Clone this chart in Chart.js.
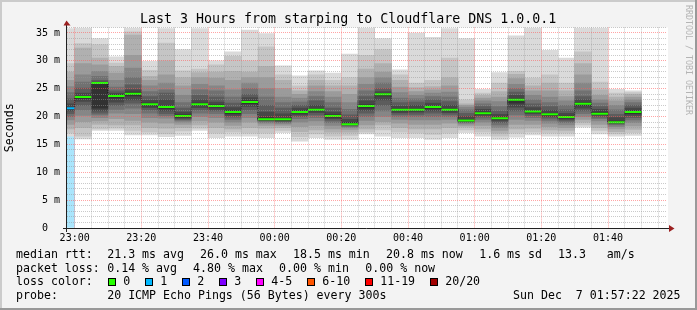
<!DOCTYPE html>
<html>
<head>
<meta charset="utf-8">
<script src="https://cdn.jsdelivr.net/npm/chart.js@4"></script>
<style>
  html, body { margin: 0; padding: 0; background: #f3f3f3; }
  canvas { display: block; }
</style>
</head>
<body>
<canvas id="smokeChart" width="697" height="310"></canvas>
<script>
// 5 minute slots, minutes after 23:00 (the first one is cut by the left edge)
const slotStart = [-5, 0, 5, 10, 15, 20, 25, 30, 35, 40, 45, 50, 55, 60, 65, 70, 75, 80,
  85, 90, 95, 100, 105, 110, 115, 120, 125, 130, 135, 140, 145, 150, 155, 160, 165];

// median rtt per slot (ms)
const medians = [21.5, 23.5, 26.0, 23.7, 24.1, 22.2, 21.7, 20.1, 22.2, 21.9, 20.8, 22.6,
  19.5, 19.5, 20.8, 21.2, 20.1, 18.6, 21.9, 24.0, 21.2, 21.2, 21.7, 21.2, 19.3, 20.6,
  19.7, 23.0, 20.9, 20.4, 19.9, 22.3, 20.5, 19.0, 20.8];

// loss class per slot (index into lossColors)
const lossIdx = [1, 0, 0, 0, 0, 0, 0, 0, 0, 0, 0, 0, 0, 0, 0, 0, 0, 0, 0, 0, 0, 0, 0, 0,
  0, 0, 0, 0, 0, 0, 0, 0, 0, 0, 0];

// light blue loss area under the first slot (ms), null = none
const lossArea = [16.5, null, null, null, null, null, null, null, null, null, null, null,
  null, null, null, null, null, null, null, null, null, null, null, null, null, null, null,
  null, null, null, null, null, null, null, null];

// sorted ping times per slot (ms), 18 values each -> smoke
const pings = [
  [16.5, 17.0, 17.8, 18.6, 19.4, 20.0, 20.5, 21.0, 21.3, 21.6, 22.3, 23.2, 24.3, 25.4, 26.5, 28.0, 29.5, 35.8],
  [16.0, 16.5, 18.0, 19.1, 20.2, 21.2, 22.0, 22.7, 23.2, 23.6, 24.2, 25.1, 26.2, 27.5, 29.5, 32.3, 33.1, 35.9],
  [17.5, 17.8, 18.6, 19.2, 19.8, 20.3, 20.6, 21.0, 21.5, 26.0, 26.2, 26.5, 27.2, 28.1, 29.3, 30.5, 32.9, 34.0],
  [17.5, 17.9, 18.5, 19.6, 20.6, 21.3, 22.0, 22.6, 23.3, 23.9, 24.2, 24.6, 25.3, 26.5, 27.8, 29.0, 29.6, 30.7],
  [16.7, 17.5, 18.5, 19.3, 20.5, 21.5, 22.4, 23.0, 23.7, 24.4, 24.8, 25.7, 27.0, 28.7, 31.0, 34.6, 35.2, 35.9],
  [16.7, 17.2, 18.0, 19.0, 19.8, 20.6, 21.2, 21.6, 21.9, 22.4, 22.9, 23.6, 24.5, 25.5, 26.5, 27.2, 28.3, 29.9],
  [16.4, 16.9, 17.9, 18.8, 19.7, 20.1, 20.5, 21.0, 21.4, 21.9, 23.0, 24.2, 24.8, 26.0, 27.5, 30.0, 33.2, 35.8],
  [16.6, 17.4, 18.0, 18.6, 19.0, 19.3, 19.5, 19.7, 19.9, 20.3, 20.8, 21.5, 22.5, 23.8, 25.5, 27.0, 28.2, 32.0],
  [17.5, 17.9, 18.5, 19.2, 20.0, 20.6, 21.2, 21.6, 22.0, 22.4, 23.0, 23.8, 24.8, 25.8, 27.0, 27.9, 28.5, 35.8],
  [16.2, 17.0, 18.0, 19.0, 19.8, 20.5, 21.0, 21.3, 21.7, 22.1, 22.6, 23.5, 24.6, 25.5, 26.9, 28.0, 29.3, 30.0],
  [16.5, 17.2, 17.8, 18.4, 19.0, 19.5, 19.9, 20.2, 20.5, 21.0, 21.6, 22.4, 23.5, 24.8, 26.5, 28.1, 30.8, 31.6],
  [16.5, 17.0, 18.0, 19.0, 19.8, 20.5, 21.2, 21.8, 22.3, 22.8, 23.4, 24.0, 25.0, 26.0, 27.0, 28.0, 30.0, 35.5],
  [16.2, 17.0, 17.9, 18.4, 18.8, 19.0, 19.2, 19.3, 19.4, 19.8, 20.8, 22.0, 23.5, 25.0, 27.0, 29.0, 32.5, 34.9],
  [17.1, 17.5, 18.0, 18.4, 18.7, 18.9, 19.1, 19.2, 19.3, 19.7, 20.5, 21.5, 22.5, 23.5, 25.0, 26.5, 27.5, 29.1],
  [15.6, 16.4, 17.3, 18.2, 19.0, 19.6, 20.0, 20.3, 20.6, 21.0, 21.5, 22.0, 22.6, 23.3, 24.0, 24.6, 25.5, 27.3],
  [16.2, 16.9, 17.6, 18.4, 19.2, 19.8, 20.3, 20.7, 21.0, 21.4, 22.0, 22.8, 23.6, 24.5, 25.5, 26.5, 27.5, 28.2],
  [15.9, 16.5, 17.2, 17.8, 18.4, 18.9, 19.3, 19.6, 19.9, 20.3, 20.8, 21.5, 22.5, 23.5, 24.5, 25.5, 26.5, 27.8],
  [15.9, 16.6, 17.2, 17.7, 18.0, 18.2, 18.4, 18.5, 18.6, 18.9, 19.5, 20.3, 21.3, 22.5, 24.0, 25.5, 27.0, 31.2],
  [16.9, 17.2, 17.8, 18.5, 19.3, 20.0, 20.6, 21.1, 21.5, 22.1, 22.8, 23.6, 24.6, 25.8, 27.0, 28.5, 31.0, 35.9],
  [16.5, 17.6, 18.5, 19.1, 20.0, 21.0, 22.0, 23.0, 23.7, 24.1, 24.5, 25.0, 26.0, 27.0, 28.0, 29.5, 32.0, 34.0],
  [16.2, 17.2, 18.0, 18.8, 19.5, 20.0, 20.4, 20.7, 21.0, 21.4, 21.9, 22.5, 23.3, 24.3, 25.3, 26.5, 27.5, 28.4],
  [16.2, 17.0, 17.8, 18.6, 19.4, 20.0, 20.4, 20.8, 21.0, 21.4, 22.0, 22.6, 23.2, 23.8, 24.5, 25.2, 26.0, 35.0],
  [15.9, 16.8, 17.8, 18.6, 19.4, 20.0, 20.6, 21.0, 21.4, 21.9, 22.4, 23.0, 23.6, 24.2, 24.8, 25.4, 26.5, 34.2],
  [16.2, 17.0, 18.0, 18.8, 19.5, 20.0, 20.4, 20.7, 21.0, 21.4, 22.0, 22.7, 23.5, 24.4, 25.5, 27.0, 30.5, 35.8],
  [17.1, 17.6, 18.1, 18.4, 18.7, 18.9, 19.0, 19.1, 19.2, 19.5, 20.0, 20.6, 21.2, 21.7, 22.0, 22.3, 23.0, 34.0],
  [16.5, 17.2, 17.8, 18.4, 19.0, 19.5, 19.9, 20.2, 20.4, 20.8, 21.3, 21.8, 22.3, 22.8, 23.3, 23.8, 24.2, 24.9],
  [15.9, 16.5, 17.0, 17.5, 18.0, 18.5, 18.9, 19.2, 19.5, 19.9, 20.4, 21.0, 21.8, 22.7, 23.5, 24.5, 26.0, 27.9],
  [16.3, 17.0, 17.8, 18.6, 19.5, 20.3, 21.0, 21.7, 22.4, 23.2, 23.8, 24.4, 25.0, 25.8, 26.8, 27.6, 28.1, 34.5],
  [16.7, 17.2, 17.9, 18.6, 19.3, 19.8, 20.2, 20.5, 20.7, 21.0, 21.6, 22.3, 23.0, 23.8, 24.6, 25.5, 26.9, 35.9],
  [16.5, 17.0, 17.6, 18.2, 18.8, 19.3, 19.7, 20.0, 20.2, 20.6, 21.1, 21.8, 22.5, 23.5, 24.6, 26.0, 27.5, 31.9],
  [16.5, 17.0, 17.5, 18.0, 18.5, 18.9, 19.2, 19.5, 19.7, 20.1, 20.6, 21.2, 22.0, 22.8, 23.6, 24.6, 26.0, 30.5],
  [18.1, 18.5, 19.0, 19.5, 20.0, 20.5, 21.0, 21.5, 22.0, 22.5, 23.0, 23.6, 24.6, 26.0, 27.5, 29.5, 31.6, 35.9],
  [16.9, 17.5, 18.0, 18.6, 19.2, 19.6, 19.9, 20.2, 20.4, 20.8, 21.3, 21.8, 22.4, 23.0, 23.8, 24.8, 26.2, 35.9],
  [16.5, 16.9, 17.3, 17.8, 18.2, 18.5, 18.7, 18.8, 18.9, 19.2, 19.8, 20.4, 21.2, 22.0, 22.8, 23.5, 24.2, 24.9],
  [16.6, 17.1, 17.7, 18.3, 18.9, 19.4, 19.8, 20.2, 20.5, 21.0, 21.5, 22.0, 22.5, 23.0, 23.5, 24.0, 24.3, 24.6]
];

// axis ticks
const xGridMinutes = [0, 5, 10, 15, 20, 25, 30, 35, 40, 45, 50, 55, 60, 65, 70, 75, 80, 85,
  90, 95, 100, 105, 110, 115, 120, 125, 130, 135, 140, 145, 150, 155, 160, 165, 170, 175];
const xLabelMinutes = [0, 20, 40, 60, 80, 100, 120, 140, 160];
const xLabels = ['23:00', '23:20', '23:40', '00:00', '00:20', '00:40', '01:00', '01:20', '01:40'];
const yLabelValues = [0, 5, 10, 15, 20, 25, 30, 35];
const yLabels = ['0  ', '5 m', '10 m', '15 m', '20 m', '25 m', '30 m', '35 m'];

// legend texts
const rttStats = ['21.3', '26.0', '18.5', '20.8', '1.6', '13.3'];
const lossStats = ['0.14', '4.80', '0.00', '0.00'];
const lossColors = ['#26ff00', '#00b8ff', '#0059ff', '#7e00ff', '#ff00ff', '#ff5500', '#ff0000', '#a10000'];
const lossLabels = ['0', '1', '2', '3', '4-5', '6-10', '11-19', '20/20'];

// smoke shades, outside -> inside
const smokeGreys = ['#dadada', '#c5c5c5', '#b0b0b0', '#9b9b9b', '#868686', '#717171', '#5c5c5c', '#474747', '#323232'];

const MONO = '"DejaVu Sans Mono", monospace';

// 스모크 레이어 (바깥쪽이 밝고 안쪽이 어두움)
const smokeSets = smokeGreys.map((col, k) => ({
  type: 'bar',
  data: pings.map((p, i) => ({ x: slotStart[i] + 2.5, y: [p[k], p[17 - k]] })),
  backgroundColor: col,
  borderWidth: 0,
  grouped: false,
  barPercentage: 1,
  categoryPercentage: 1,
  order: 10 - k
}));

const lossSet = {
  type: 'bar',
  data: lossArea.map((v, i) => ({ x: slotStart[i] + 2.5, y: v === null ? null : [0, v] })),
  backgroundColor: '#aae5fc',
  borderWidth: 0,
  grouped: false,
  barPercentage: 1,
  categoryPercentage: 1,
  order: 11
};

// median as steps: start and end of every slot
const stepPts = [];
medians.forEach((m, i) => {
  stepPts.push({ x: slotStart[i], y: m }, { x: slotStart[i] + 5, y: m });
});

const medianDots = {
  type: 'line',
  data: stepPts,
  borderColor: '#101010',
  borderWidth: 1,
  borderDash: [1, 1],
  pointRadius: 0,
  fill: false,
  order: 1
};

const medianLine = {
  type: 'line',
  data: stepPts,
  borderWidth: 2,
  pointRadius: 0,
  fill: false,
  borderCapStyle: 'butt',
  segment: {
    borderColor: ctx => ctx.p0DataIndex % 2 === 0 ? lossColors[lossIdx[ctx.p0DataIndex >> 1]] : 'rgba(0,0,0,0)'
  },
  order: 0
};

// 배경, 테두리, 제목, 범례
const framePlugin = {
  id: 'frame',
  beforeDraw(chart) {
    const ctx = chart.ctx;
    const a = chart.chartArea;
    ctx.save();
    ctx.fillStyle = '#f3f3f3';
    ctx.fillRect(0, 0, 697, 310);
    ctx.fillStyle = '#cbcbcb';
    ctx.fillRect(0, 0, 697, 2);
    ctx.fillRect(0, 0, 2, 310);
    ctx.fillStyle = '#999999';
    ctx.fillRect(0, 308, 697, 2);
    ctx.fillRect(695, 0, 2, 310);
    ctx.fillStyle = '#ffffff';
    ctx.fillRect(a.left, a.top, a.right - a.left + 1, a.bottom - a.top);
    ctx.restore();
  },
  afterDraw(chart) {
    const ctx = chart.ctx;
    const a = chart.chartArea;
    ctx.save();

    // axes
    ctx.strokeStyle = '#202020';
    ctx.lineWidth = 1;
    ctx.beginPath();
    ctx.moveTo(63, a.bottom + 0.5);
    ctx.lineTo(670, a.bottom + 0.5);
    ctx.moveTo(a.left - 0.5, a.bottom + 4);
    ctx.lineTo(a.left - 0.5, 24);
    ctx.stroke();
    ctx.fillStyle = '#9b2020';
    ctx.beginPath();
    ctx.moveTo(63.5, 25.5); ctx.lineTo(70.5, 25.5); ctx.lineTo(66.5, 20.5);
    ctx.closePath(); ctx.fill();
    ctx.beginPath();
    ctx.moveTo(669, a.bottom - 3); ctx.lineTo(669, a.bottom + 4); ctx.lineTo(674.5, a.bottom + 0.5);
    ctx.closePath(); ctx.fill();

    // title
    ctx.fillStyle = '#000';
    ctx.textBaseline = 'alphabetic';
    ctx.textAlign = 'left';
    ctx.font = '13.3px ' + MONO;
    ctx.fillText('Last 3 Hours from starping to Cloudflare DNS 1.0.0.1', 140, 23.3);

    // legend
    ctx.font = '11.6px ' + MONO;
    const rows = [257.8, 271.6, 285.4, 299.2];
    ctx.fillText('median rtt:', 16, rows[0]);
    ctx.fillText(rttStats[0] + ' ms avg', 107.2, rows[0]);
    ctx.fillText(rttStats[1] + ' ms max', 200, rows[0]);
    ctx.fillText(rttStats[2] + ' ms min', 293, rows[0]);
    ctx.fillText(rttStats[3] + ' ms now', 386, rows[0]);
    ctx.fillText(rttStats[4] + ' ms sd', 479.2, rows[0]);
    ctx.fillText(rttStats[5], 558, rows[0]);
    ctx.fillText('am/s', 606.7, rows[0]);

    ctx.fillText('packet loss:', 16, rows[1]);
    ctx.fillText(lossStats[0] + ' % avg', 107.2, rows[1]);
    ctx.fillText(lossStats[1] + ' % max', 193.1, rows[1]);
    ctx.fillText(lossStats[2] + ' % min', 279.1, rows[1]);
    ctx.fillText(lossStats[3] + ' % now', 365.3, rows[1]);

    ctx.fillText('loss color:', 16, rows[2]);
    const boxX = [108.5, 145.5, 182.5, 219.5, 256.5, 307.5, 365.5, 430.5];
    lossLabels.forEach((lab, i) => {
      ctx.fillStyle = lossColors[i];
      ctx.fillRect(boxX[i], 278.5, 7, 7);
      ctx.strokeStyle = '#000';
      ctx.strokeRect(boxX[i], 278.5, 7, 7);
      ctx.fillStyle = '#000';
      ctx.fillText(lab, boxX[i] + 14.7, rows[2]);
    });

    ctx.fillText('probe:', 16, rows[3]);
    ctx.fillText('20 ICMP Echo Pings (56 Bytes) every 300s', 107.2, rows[3]);
    ctx.fillText('Sun Dec  7 01:57:22 2025', 513, rows[3]);

    // watermark
    ctx.translate(688, 5);
    ctx.rotate(Math.PI / 2);
    ctx.font = '8.3px ' + MONO;
    ctx.fillStyle = '#b4b4b4';
    ctx.textBaseline = 'middle';
    ctx.fillText('RRDTOOL / TOBI OETIKER', 0, 0);
    ctx.restore();
  }
};

const chart = new Chart(document.getElementById('smokeChart'), {
  type: 'bar',
  data: { datasets: [medianLine, medianDots, ...smokeSets, lossSet] },
  options: {
    responsive: false,
    devicePixelRatio: 1,
    animation: false,
    events: [],
    layout: { padding: { top: 27.4, right: 30, left: 0, bottom: 0 } },
    plugins: {
      legend: { display: false },
      tooltip: { enabled: false },
      title: { display: false }
    },
    scales: {
      x: {
        type: 'linear',
        min: -2.3,
        max: 177.7,
        offset: false,
        afterBuildTicks: s => { s.ticks = xGridMinutes.map(v => ({ value: v })); },
        afterFit: s => { s.height = 82; },
        grid: {
          z: 1,
          offset: false,
          drawTicks: false,
          lineWidth: 1,
          color: c => (c.tick && c.tick.value % 20 === 0) ? 'rgba(255,90,90,0.55)' : 'rgba(150,150,150,0.5)'
        },
        border: { display: false, dash: [1, 1] },
        ticks: {
          autoSkip: false,
          maxRotation: 0,
          minRotation: 0,
          padding: 4,
          color: '#000',
          font: { family: MONO, size: 10 },
          callback: v => { const i = xLabelMinutes.indexOf(v); return i >= 0 ? xLabels[i] : ''; }
        }
      },
      y: {
        min: 0,
        max: 36,
        afterFit: s => { s.width = 67; },
        grid: {
          z: 1,
          drawTicks: false,
          lineWidth: 1,
          color: c => (c.tick && c.tick.value % 5 === 0) ? 'rgba(255,90,90,0.55)' : 'rgba(150,150,150,0.5)'
        },
        border: { display: false, dash: [1, 1] },
        title: {
          display: true,
          text: 'Seconds',
          color: '#000',
          font: { family: MONO, size: 11.6 },
          padding: { top: 3.5, bottom: 0 }
        },
        ticks: {
          stepSize: 1,
          autoSkip: false,
          padding: 7,
          color: '#000',
          font: { family: MONO, size: 10 },
          callback: v => { const i = yLabelValues.indexOf(v); return i >= 0 ? yLabels[i] : ''; }
        }
      }
    }
  },
  plugins: [framePlugin]
});
</script>
</body>
</html>
